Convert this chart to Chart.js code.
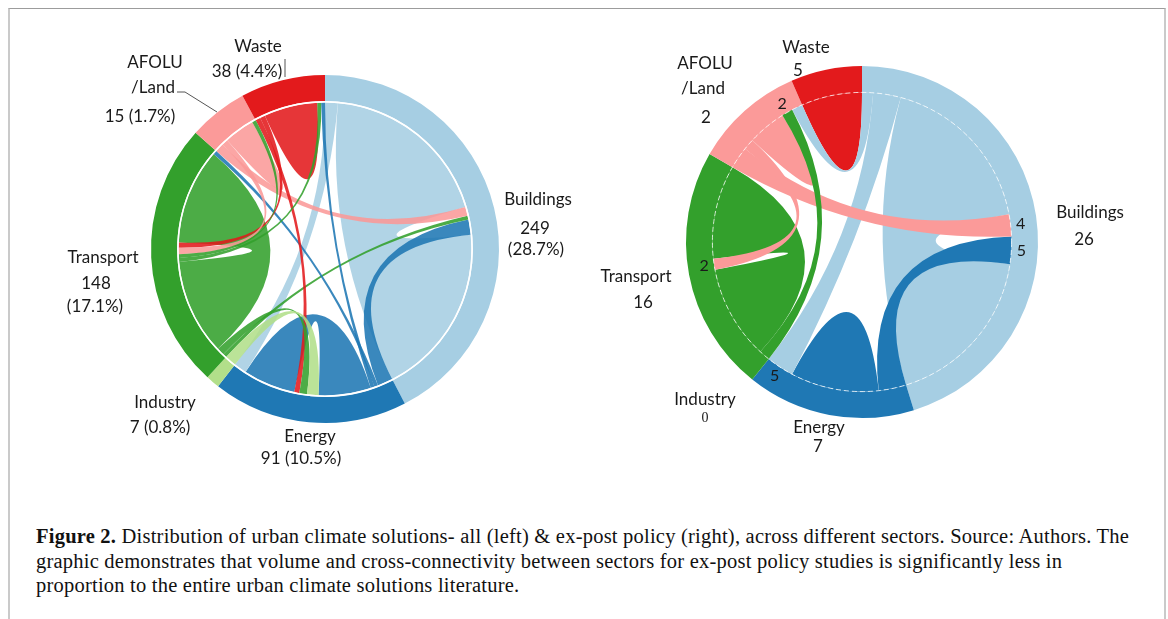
<!DOCTYPE html>
<html>
<head>
<meta charset="utf-8">
<script src="https://cdn.jsdelivr.net/npm/chart.js@4.4.1/dist/chart.umd.min.js"></script>
<style>
html, body { margin: 0; padding: 0; background: #fff; }
body { width: 1168px; height: 619px; position: relative; overflow: hidden; }
#frame { position: absolute; left: 8px; top: 8px; width: 1154px; height: 640px;
  border-top: 1px solid #9c9c9c; border-left: 2px solid #cacaca; border-right: 2px solid #cacaca; }
#left { position: absolute; left: 0; top: 0; }
#right { position: absolute; left: 584px; top: 0; }
#caption { position: absolute; left: 36px; top: 524px; font-family: 'Liberation Serif', serif;
  font-size: 20.5px; letter-spacing: 0.22px; line-height: 24.5px; color: #111; white-space: nowrap; }
</style>
</head>
<body>
<div id="frame"></div>
<canvas id="left" width="584" height="500"></canvas>
<canvas id="right" width="584" height="500"></canvas>
<div id="caption"><b>Figure 2.</b> Distribution of urban climate solutions- all (left) &amp; ex-post policy (right), across different sectors. Source: Authors. The<br>graphic demonstrates that volume and cross-connectivity between sectors for ex-post policy studies is significantly less in<br>proportion to the entire urban climate solutions literature.</div>
<script>
// Sectors, clockwise from 12 o'clock
const sectors = ['Buildings', 'Energy', 'Industry', 'Transport', 'AFOLU/Land', 'Waste'];
const sectorColors = ['#a6cee3', '#1f78b4', '#b2df8a', '#33a02c', '#fb9a99', '#e31a1c'];

// Left: all urban climate solutions
const allCounts = [249, 91, 7, 148, 15, 38];
const allShares = ['28.7%', '10.5%', '0.8%', '17.1%', '1.7%', '4.4%'];
const allLinks = [
    ['Buildings', 'Energy', 5],
    ['Buildings', 'Buildings', 67.5],
    ['Energy', 'Buildings', 6],
    ['Transport', 'Buildings', 1.5],
    ['AFOLU/Land', 'Buildings', 3.5],
    ['Energy', 'Transport', 1.5],
    ['Energy', 'Waste', 1.5],
    ['Energy', 'Energy', 20.5],
    ['Waste', 'Energy', 2],
    ['Transport', 'Energy', 3],
    ['Industry', 'Energy', 4.5],
    ['Transport', 'Transport', 37.5],
    ['Waste', 'Transport', 2],
    ['AFOLU/Land', 'Transport', 2.5],
    ['Transport', 'Waste', 1.5],
    ['Transport', 'AFOLU/Land', 1.5],
    ['AFOLU/Land', 'AFOLU/Land', 6],
    ['Waste', 'Waste', 10.5]
];

// Right: ex-post policy
const expostCounts = [26, 7, 0, 16, 2, 5];
const expostLinks = [
    ['Buildings', 'AFOLU/Land', 2],
    ['Buildings', 'Energy', 5],
    ['Buildings', 'Buildings', 30],
    ['Energy', 'Buildings', 5],
    ['AFOLU/Land', 'Buildings', 4],
    ['Energy', 'Energy', 8],
    ['Transport', 'AFOLU/Land', 2],
    ['Transport', 'Transport', 17],
    ['AFOLU/Land', 'Transport', 2],
    ['AFOLU/Land', 'AFOLU/Land', 3.5],
    ['Waste', 'Waste', 5.5]
];
// links whose value is printed at their target end
const expostNumbered = [1, 3, 4, 6, 8];

// Helpers
function arcTotals(links) {
    const t = sectors.map(() => 0);
    links.forEach(([f, to, v]) => {
        t[sectors.indexOf(f)] += v;
        t[sectors.indexOf(to)] += v;
    });
    return t;
}

// outgoing ends first (list order), then incoming ends (reverse list order)
function endOrder(links) {
    return sectors.map(s => {
        const out = [], inc = [];
        links.forEach(([f, to], i) => {
            if (f === s) out.push({ li: i, role: 'src' });
            if (to === s) inc.push({ li: i, role: 'tgt' });
        });
        return out.concat(inc.reverse());
    });
}

function withAlpha(hex, a) {
    const n = parseInt(hex.slice(1), 16);
    return `rgba(${n >> 16},${(n >> 8) & 255},${n & 255},${a})`;
}

function ribbon(ctx, cx, cy, r, s, t) {
    const pt = a => [cx + r * Math.cos(a), cy + r * Math.sin(a)];
    ctx.beginPath();
    ctx.moveTo(...pt(s[0]));
    ctx.arc(cx, cy, r, s[0], s[1]);
    ctx.quadraticCurveTo(cx, cy, ...pt(t[0]));
    ctx.arc(cx, cy, r, t[0], t[1]);
    ctx.quadraticCurveTo(cx, cy, ...pt(s[0]));
    ctx.closePath();
    ctx.fill();
}

const chordPlugin = {
    id: 'chord',
    afterDatasetsDraw(chart, args, o) {
        const ctx = chart.ctx;
        const arcs = chart.getDatasetMeta(0).data;
        const cx = arcs[0].x, cy = arcs[0].y, inner = arcs[0].innerRadius;
        const totals = arcTotals(o.links);
        const order = endOrder(o.links);
        const spans = o.links.map(() => ({}));

        sectors.forEach((s, i) => {
            if (!totals[i]) return;
            const a = arcs[i];
            const k = (a.endAngle - a.startAngle) / totals[i];
            let ang = a.startAngle;
            order[i].forEach(({ li, role }) => {
                const w = o.links[li][2] * k;
                spans[li][role] = [ang, ang + w];
                ang += w;
            });
        });

        const r = inner - o.gap;
        ctx.save();
        // self links underneath, cross links on top
        const idx = o.links.map((_, i) => i);
        const selfFirst = idx.filter(i => o.links[i][0] === o.links[i][1])
            .concat(idx.filter(i => o.links[i][0] !== o.links[i][1]));
        selfFirst.forEach(i => {
            ctx.fillStyle = withAlpha(sectorColors[sectors.indexOf(o.links[i][0])], o.alpha);
            ribbon(ctx, cx, cy, r, spans[i].src, spans[i].tgt);
        });

        // circle between ring and ribbons
        ctx.strokeStyle = o.circleColor;
        ctx.lineWidth = o.circleWidth;
        ctx.setLineDash(o.circleDash);
        ctx.beginPath();
        ctx.arc(cx, cy, inner - o.gap / 2, 0, Math.PI * 2);
        ctx.stroke();
        ctx.setLineDash([]);

        // link values
        ctx.fillStyle = '#1a1a1a';
        ctx.font = '16px Lato';
        ctx.textAlign = 'center';
        ctx.textBaseline = 'middle';
        (o.numbered || []).forEach(i => {
            const t = spans[i].tgt;
            const m = (t[0] + t[1]) / 2;
            ctx.fillText(String(o.links[i][2]), cx + (inner + 10) * Math.cos(m), cy + (inner + 10) * Math.sin(m));
        });
        ctx.restore();
    },
    afterDraw(chart, args, o) {
        const ctx = chart.ctx;
        const a = chart.getDatasetMeta(0).data[0];
        ctx.save();
        ctx.fillStyle = '#1a1a1a';
        ctx.textAlign = 'center';
        ctx.textBaseline = 'middle';
        o.labels.forEach(([text, dx, dy, font]) => {
            ctx.font = font || '17px Lato';
            ctx.fillText(text, a.x + dx, a.y + dy);
        });
        ctx.strokeStyle = '#555';
        ctx.lineWidth = 1;
        (o.leaders || []).forEach(pts => {
            ctx.beginPath();
            pts.forEach(([dx, dy], j) => j ? ctx.lineTo(a.x + dx, a.y + dy) : ctx.moveTo(a.x + dx, a.y + dy));
            ctx.stroke();
        });
        ctx.restore();
    }
};

function makeChord(id, links, padding, chordOpts) {
    return new Chart(document.getElementById(id), {
        type: 'doughnut',
        data: {
            labels: sectors,
            datasets: [{
                data: arcTotals(links),
                backgroundColor: sectorColors,
                borderWidth: 0,
                hoverOffset: 0
            }]
        },
        options: {
            responsive: false,
            animation: false,
            devicePixelRatio: 1,
            cutout: '85%',
            layout: { padding },
            plugins: {
                legend: { display: false },
                tooltip: { enabled: false },
                chord: Object.assign({ links }, chordOpts)
            }
        },
        plugins: [chordPlugin]
    });
}

makeChord('left', allLinks, { left: 151, right: 85, top: 75, bottom: 77 }, {
    alpha: 0.88, gap: 1.5, circleColor: '#ffffff', circleWidth: 1.5, circleDash: [],
    labels: [
        ['Waste', -67, -202],
        [`${allCounts[5]} (${allShares[5]})`, -78, -177],
        ['AFOLU', -170, -186],
        ['/Land', -172, -161],
        [`${allCounts[4]} (${allShares[4]})`, -185, -132],
        ['Buildings', 213, -49],
        [String(allCounts[0]), 210, -20],
        [`(${allShares[0]})`, 211, 1],
        ['Transport', -222, 9],
        [String(allCounts[3]), -229, 35],
        [`(${allShares[3]})`, -230, 58],
        ['Industry', -160, 154],
        [`${allCounts[2]} (${allShares[2]})`, -165, 179],
        ['Energy', -15, 188],
        [`${allCounts[1]} (${allShares[1]})`, -24, 210]
    ],
    leaders: [
        [[-148, -157], [-140, -157], [-108, -137]],
        [[-40, -190], [-40, -172]]
    ]
});

makeChord('right', expostLinks, { left: 102, right: 130, top: 66, bottom: 82 }, {
    alpha: 1, gap: 0, circleColor: 'rgba(255,255,255,0.75)', circleWidth: 1, circleDash: [5, 3],
    numbered: expostNumbered,
    labels: [
        ['Waste', -56, -194],
        [String(expostCounts[5]), -64, -171],
        ['AFOLU', -157, -178],
        ['/Land', -159, -153],
        [String(expostCounts[4]), -156, -124],
        ['Buildings', 228, -29],
        [String(expostCounts[0]), 222, -2],
        ['Transport', -226, 35],
        [String(expostCounts[3]), -219, 61],
        ['Industry', -157, 158],
        [String(expostCounts[2]), -157, 176, '14px "Liberation Serif"'],
        ['Energy', -43, 186],
        [String(expostCounts[1]), -44, 205]
    ]
});
</script>
</body>
</html>
